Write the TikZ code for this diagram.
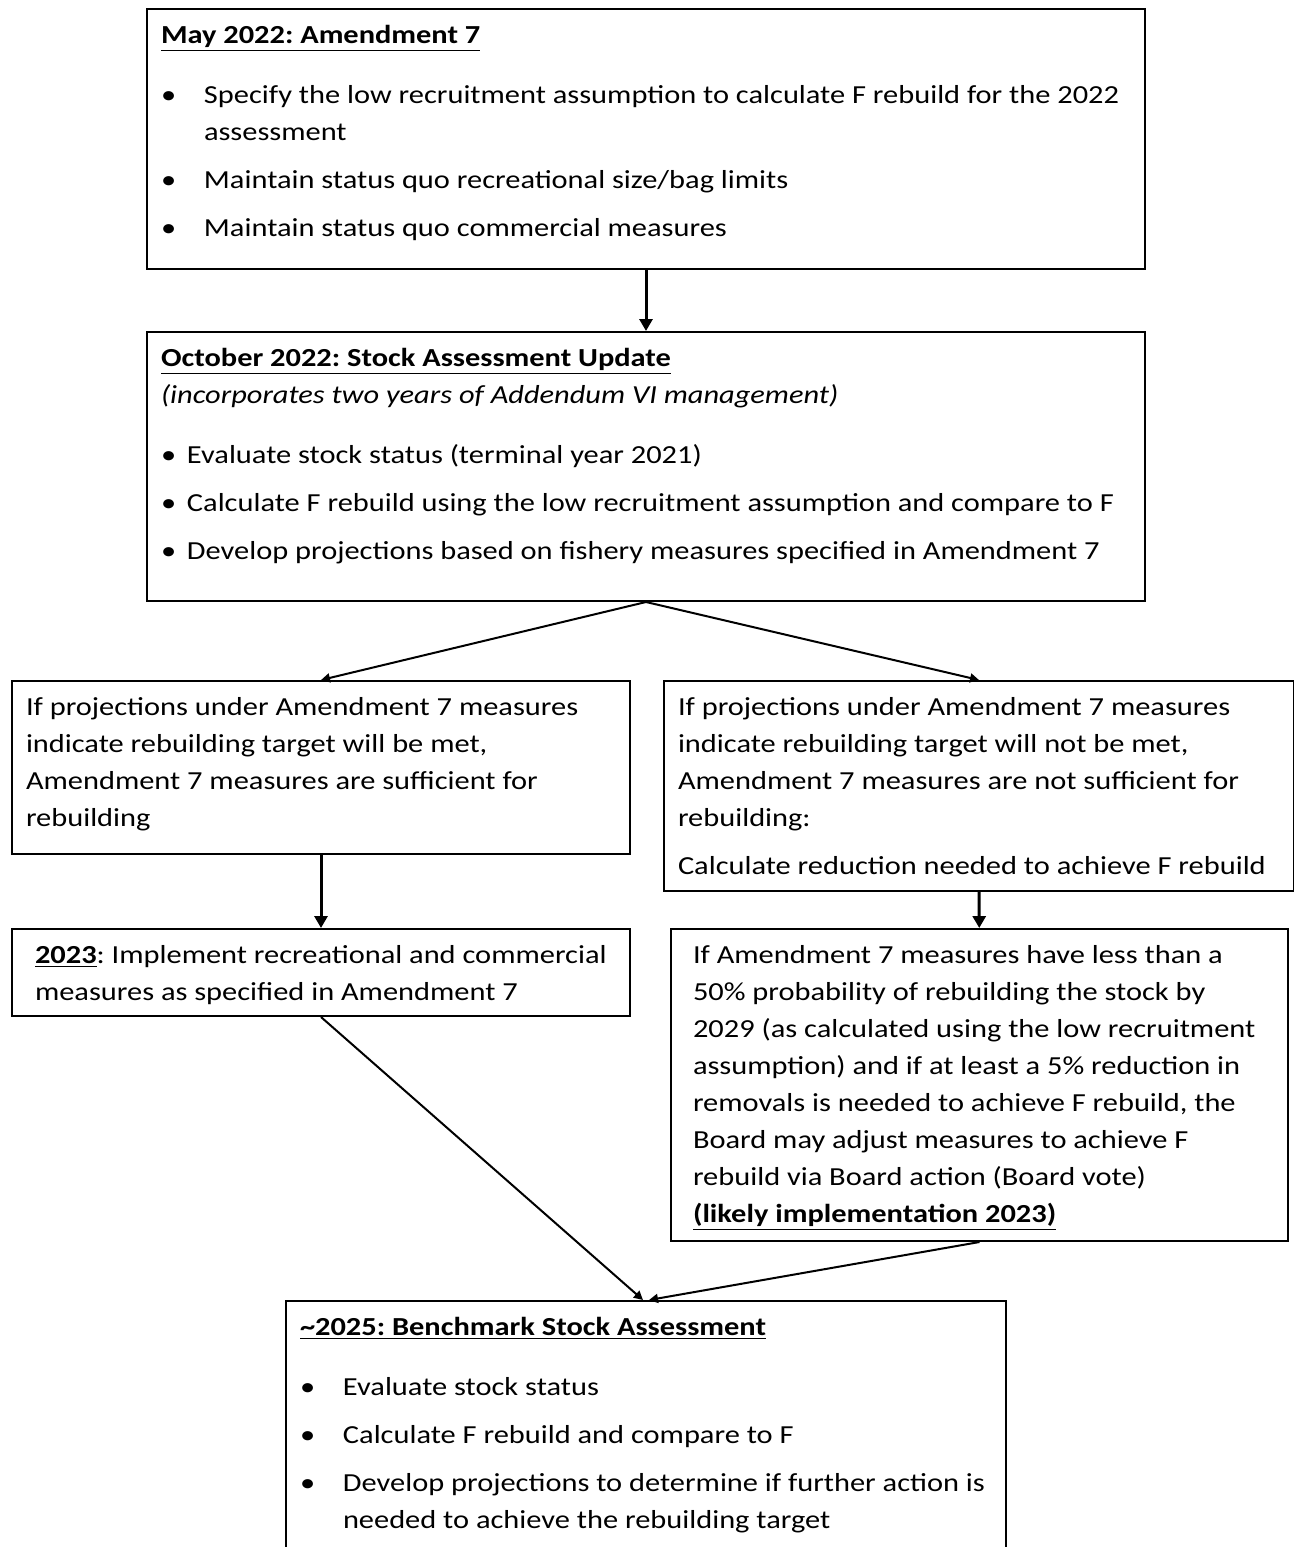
\documentclass[tikz,border=0pt]{standalone}
\usepackage{fontspec}
\setmainfont{Carlito}[FakeStretch=1.17]
\usetikzlibrary{arrows.meta}

\newcommand{\bitem}[2][21.5pt]{\par\vspace{5.5pt}\hangindent=#1\hangafter=1\noindent\makebox[#1][l]{\textbullet}#2}
\newcommand{\panelpad}{7pt}

\tikzset{
  pad/.code={\def\panelpad{#1}},
  panel/.style 2 args={draw, line width=1pt, anchor=north west, inner xsep=0pt, inner ysep=8pt,
    execute at begin node={\begin{minipage}[t][\dimexpr#2-16pt\relax][t]{#1}\fontsize{13}{18.5}\selectfont\frenchspacing\raggedright\setlength{\leftskip}{\panelpad}},
    execute at end node={\end{minipage}}},
  flow/.style={line width=1.5pt, -{Triangle[length=6pt,width=6.5pt]}},
  slant/.style={line width=1pt, -{Triangle[length=4.5pt,width=4.5pt]}},
}

\begin{document}
\begin{tikzpicture}[x=0.5pt, y=-0.5pt]
  \useasboundingbox (0,0) rectangle (1294,1547);

  \node (may) [panel={499pt}{130pt}] at (146,8) {%
    \textbf{\underline{May 2022: Amendment 7}}\par\vspace{6pt}
    \bitem{Specify the low recruitment assumption to calculate F rebuild for the 2022\newline assessment}
    \bitem{Maintain status quo recreational size/bag limits}
    \bitem{Maintain status quo commercial measures}\par};

  \node (oct) [panel={499pt}{134.5pt}] at (146,331) {%
    \textbf{\underline{October 2022: Stock Assessment Update}}\\
    \textit{(incorporates two years of Addendum VI management)}\par\vspace{6pt}
    \bitem[13pt]{Evaluate stock status (terminal year 2021)}
    \bitem[13pt]{Calculate F rebuild using the low recruitment assumption and compare to F}
    \bitem[13pt]{Develop projections based on fishery measures specified in Amendment 7}\par};

  \node (met) [panel={309pt}{86.5pt}] at (11,680) {%
    If projections under Amendment 7 measures\\
    indicate rebuilding target will be met,\\
    Amendment 7 measures are sufficient for\\
    rebuilding};

  \node (notmet) [panel={315pt}{105pt}] at (663,680) {%
    If projections under Amendment 7 measures\\
    indicate rebuilding target will not be met,\\
    Amendment 7 measures are not sufficient for\\
    rebuilding:\par\vspace{5.5pt}
    Calculate reduction needed to achieve F rebuild};

  \node (impl) [panel={309pt}{43.5pt}, pad=11.5pt] at (11,928) {%
    \textbf{\underline{2023}}: Implement recreational and commercial\\
    measures as specified in Amendment 7};

  \node (board) [panel={308.5pt}{156pt}, pad=11pt] at (670,928) {%
    If Amendment 7 measures have less than a\\
    50\% probability of rebuilding the stock by\\
    2029 (as calculated using the low recruitment\\
    assumption) and if at least a 5\% reduction in\\
    removals is needed to achieve F rebuild, the\\
    Board may adjust measures to achieve F\\
    rebuild via Board action (Board vote)\\
    \textbf{\underline{(likely implementation 2023)}}};

  \node (bench) [panel={360pt}{140pt}] at (285,1300) {%
    \textbf{\underline{\textasciitilde2025: Benchmark Stock Assessment}}\par\vspace{6pt}
    \bitem{Evaluate stock status}
    \bitem{Calculate F rebuild and compare to F}
    \bitem{Develop projections to determine if further action is\newline needed to achieve the rebuilding target}\par};

  % connectors
  \draw[flow] (may) -- (oct);
  \draw[slant] (oct.south) -- (met.north);
  \draw[slant] (oct.south) -- (notmet.north);
  \draw[flow] (met) -- (impl);
  \draw[flow] (notmet) -- (board);
  \draw[slant] (impl.south) -- ([xshift=-1.5pt]bench.north);
  \draw[slant] (board.south) -- ([xshift=1.5pt]bench.north);
\end{tikzpicture}
\end{document}
